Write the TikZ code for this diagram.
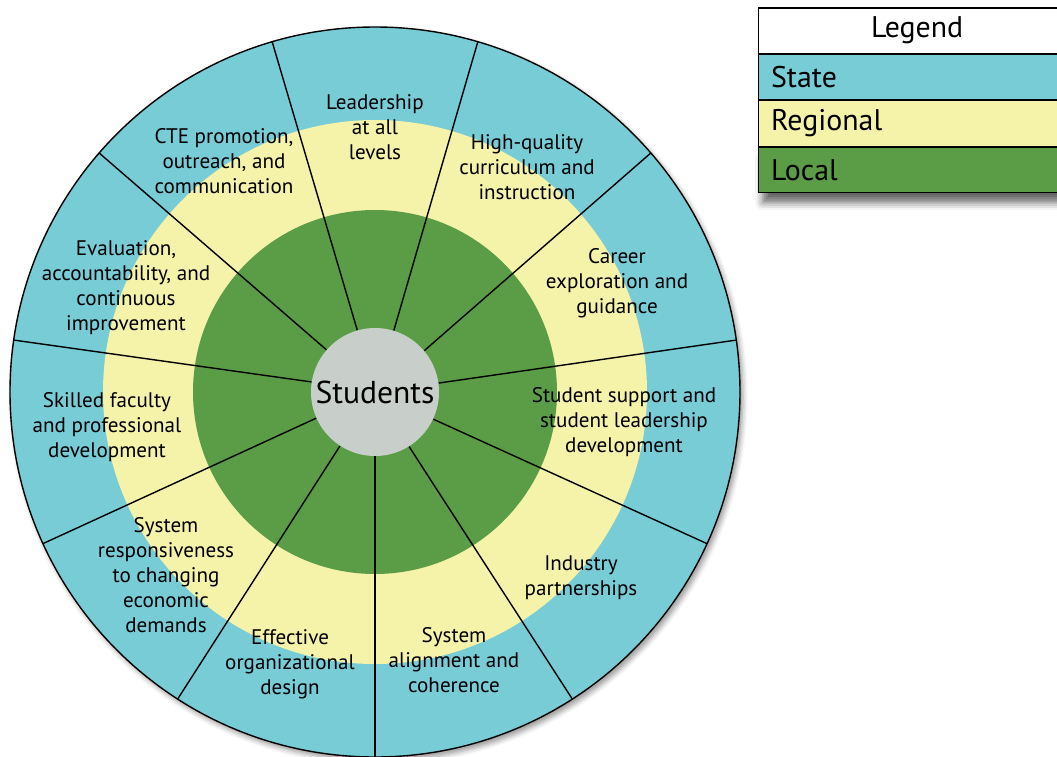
\documentclass[tikz,border=0pt]{standalone}
\usepackage{fontspec}
\setmainfont{PT Sans}
\usetikzlibrary{positioning,shadows.blur}
\definecolor{statecol}{RGB}{120,204,214}
\definecolor{regioncol}{RGB}{245,242,170}
\definecolor{localcol}{RGB}{90,157,70}
\definecolor{studcol}{RGB}{200,207,203}

\begin{document}
\begin{tikzpicture}[
  topic/.style={align=center, font=\fontsize{12}{14.2}\selectfont, inner sep=0pt},
  spoke/.style={line width=0.8pt},
  legrow/.style={draw, line width=0.7pt, minimum height=0.905cm, text width=5.84cm,
    inner xsep=0.25cm, inner ysep=0pt, align=left, font=\fontsize{17}{19}\selectfont}
]
  \useasboundingbox (-7.5,-7.28) rectangle (13.64,7.84);

  \fill [statecol, blur shadow={shadow xshift=0.06cm, shadow yshift=-0.08cm, shadow blur radius=0.1cm}] (0,0) circle [radius=7.3];
  \fill [regioncol] (0,0) circle [radius=5.44];
  \fill [localcol] (0,0) circle [radius=3.64];
  \draw [line width=0.8pt] (0,0) circle [radius=7.3];
  \node [circle, fill=studcol, minimum size=2.56cm, inner sep=0pt, font=\fontsize{18}{21}\selectfont] (students) at (0,0) {Students};

  \foreach \i [evaluate=\i as \ang using 270+\i*360/11] in {0,...,10}
    \draw [spoke] (students.\ang) -- (\ang:7.3);

  \node [topic] (lead) at (0,5.30) {Leadership\\at all\\levels};
  \node [topic] (quality) at (3.04,4.50) {High-quality\\curriculum and\\instruction};
  \node [topic] (career) at (4.84,2.18) {Career\\exploration and\\guidance};
  \node [topic] (support) at (4.98,-0.60) {Student support and\\student leadership\\development};
  \node [topic] (industry) at (4.12,-3.72) {Industry\\partnerships};
  \node [topic] (alignment) at (1.58,-5.36) {System\\alignment and\\coherence};
  \node [topic] (design) at (-1.70,-5.44) {Effective\\organizational\\design};
  \node [topic] (respons) at (-4.18,-3.66) {System\\responsiveness\\to changing\\economic\\demands};
  \node [topic] (faculty) at (-5.36,-0.70) {Skilled faculty\\and professional\\development};
  \node [topic] (evaluation) at (-4.98,2.08) {Evaluation,\\accountability, and\\continuous\\improvement};
  \node [topic] (promotion) at (-3.02,4.62) {CTE promotion,\\outreach, and\\communication};

  \node [legrow, fill=white, align=center, anchor=north west] (legend) at (7.66,7.694) {Legend};
  \node [legrow, fill=statecol, below=0pt of legend] (state) {State};
  \node [legrow, fill=regioncol, below=0pt of state] (regional) {Regional};
  \node [legrow, fill=localcol, below=0pt of regional,
    blur shadow={shadow xshift=0.08cm, shadow yshift=-0.2cm, shadow blur radius=0.15cm, shadow opacity=60}] (local) {Local};
\end{tikzpicture}
\end{document}
